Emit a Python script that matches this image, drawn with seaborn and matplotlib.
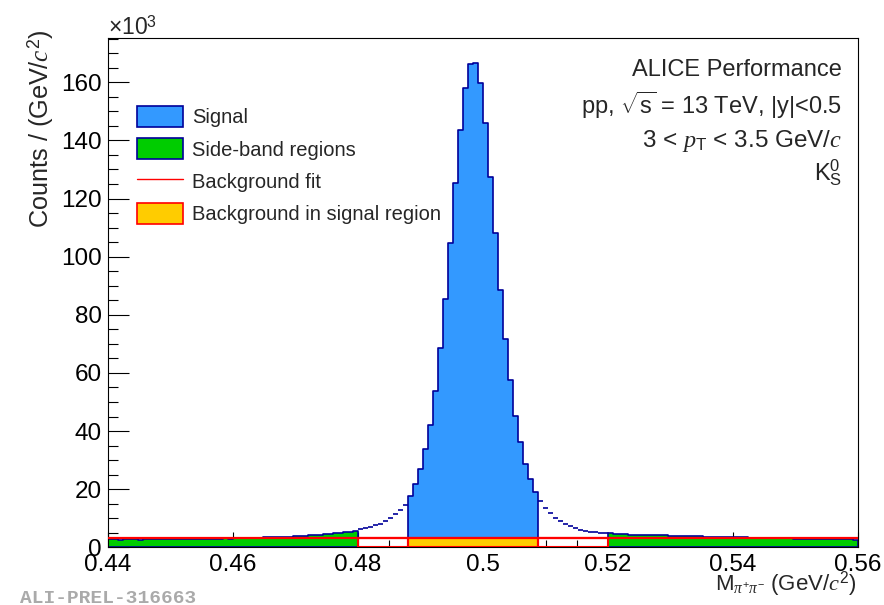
import numpy as np
import pandas as pd
import matplotlib
matplotlib.use("Agg")
import matplotlib.pyplot as plt
import seaborn as sns
from matplotlib.patches import Patch
from matplotlib.lines import Line2D
from matplotlib.ticker import MultipleLocator, FixedLocator

# ---- invariant-mass histogram (counts in units of 10^3 per bin) ----
x_min, x_max, n_bins = 0.44, 0.56, 150

left_sideband = [2.7, 2.8, 2.6, 2.7, 2.8, 2.7, 2.6, 2.8, 2.7, 2.8,
                 2.8, 2.7, 2.9, 2.8, 2.8, 2.9, 2.8, 2.9, 3.0, 2.9,
                 3.0, 2.9, 3.0, 3.1, 3.0, 3.1, 3.1, 3.2, 3.2, 3.3,
                 3.3, 3.4, 3.4, 3.5, 3.6, 3.7, 3.7, 3.8, 3.9, 4.0,
                 4.1, 4.2, 4.3, 4.5, 4.6, 4.8, 4.9, 5.2, 5.4, 5.6]
left_gap = [6.3, 6.6, 7.0, 7.6, 8.1, 8.9, 10.0, 11.4, 12.9, 14.6]
signal = [17.7, 21.7, 26.8, 33.7, 42.2, 53.7, 68.6, 85.5, 104.8, 125.2,
          143.6, 158.2, 166.3, 166.8, 159.9, 146.1, 127.5, 108.2, 88.7, 71.6,
          57.5, 45.1, 36.1, 28.8, 23.4, 19.2]
right_gap = [16.0, 13.4, 11.7, 10.2, 9.2, 8.1, 7.3, 6.5, 6.0, 5.7, 5.4, 5.2, 5.0, 4.8]
right_sideband = [4.8, 4.6, 4.6, 4.5, 4.4, 4.4, 4.3, 4.3, 4.2, 4.2,
                  4.1, 4.1, 4.0, 4.0, 3.9, 3.9, 3.9, 3.8, 3.8, 3.7,
                  3.7, 3.6, 3.6, 3.5, 3.5, 3.5, 3.4, 3.4, 3.3, 3.3,
                  3.3, 3.2, 3.2, 3.2, 3.1, 3.1, 3.1, 3.0, 3.0, 3.0,
                  2.9, 2.9, 2.9, 2.8, 2.8, 2.8, 2.7, 2.7, 2.7, 2.6]
background_level = 3.3

x_ticks = [0.44, 0.46, 0.48, 0.50, 0.52, 0.54, 0.56]
x_tick_labels = ["0.44", "0.46", "0.48", "0.5", "0.52", "0.54", "0.56"]
y_ticks = [0, 20, 40, 60, 80, 100, 120, 140, 160]
legend_labels = ["Signal", "Side-band regions", "Background fit",
                 "Background in signal region"]

# ---- colours ----
c_signal = "#3399ff"
c_side = "#00cc00"
c_bkg = "#ffcc00"
c_line = "#000099"
c_fit = "#ff0000"

sns.set_style("ticks")
plt.rcParams["font.family"] = ["Liberation Sans", "DejaVu Sans"]
plt.rcParams["mathtext.fontset"] = "custom"
plt.rcParams["mathtext.rm"] = "Liberation Sans"
plt.rcParams["mathtext.it"] = "Liberation Serif:italic"
plt.rcParams["mathtext.bf"] = "Liberation Sans:bold"
plt.rcParams["axes.edgecolor"] = "black"

fig = plt.figure(figsize=(8.84, 6.05), dpi=100)
ax = fig.add_axes([108 / 884, 1 - 547.3 / 605, 750 / 884, 509 / 605])

edges = np.linspace(x_min, x_max, n_bins + 1)
counts = np.array(left_sideband + left_gap + signal + right_gap + right_sideband)
centers = 0.5 * (edges[:-1] + edges[1:])
hist_df = pd.DataFrame({"mass": centers, "counts": counts})

# bin index ranges of each region
n1 = len(left_sideband)
n2 = n1 + len(left_gap)
n3 = n2 + len(signal)
n4 = n3 + len(right_gap)
n5 = n4 + len(right_sideband)


def filled_hist(i0, i1, color):
    sns.histplot(data=hist_df.iloc[i0:i1], x="mass", weights="counts",
                 bins=i1 - i0, binrange=(edges[i0], edges[i1]),
                 element="step", fill=True, color=color, edgecolor=c_line,
                 linewidth=1.2, alpha=1, ax=ax, zorder=1)


filled_hist(0, n1, c_side)
filled_hist(n2, n3, c_signal)
filled_hist(n4, n5, c_side)

# unfilled bins between side bands and signal window
for i0, i1 in [(n1, n2), (n3, n4)]:
    ax.hlines(counts[i0:i1], edges[i0:i1], edges[i0 + 1:i1 + 1],
              colors=c_line, linewidth=1.2, zorder=2)

# background under the peak and the excluded windows
ax.bar(edges[n2], background_level, width=edges[n3] - edges[n2], align="edge",
       color=c_bkg, edgecolor=c_fit, linewidth=1.5, zorder=3)
for i0, i1 in [(n1, n2), (n3, n4)]:
    ax.bar(edges[i0], background_level, width=edges[i1] - edges[i0], align="edge",
           fill=False, edgecolor=c_fit, linewidth=1.5, zorder=3)
ax.hlines(background_level, edges[0], edges[-1], colors=c_fit, linewidth=1.6, zorder=4)

# ---- axes ----
ax.set_xlim(x_min, x_max)
ax.set_ylim(0, max(signal) * 1.05)
ax.set_axisbelow(True)
ax.xaxis.set_major_locator(FixedLocator(x_ticks))
ax.set_xticklabels(x_tick_labels)
ax.xaxis.set_minor_locator(MultipleLocator(0.005))
ax.yaxis.set_major_locator(FixedLocator(y_ticks))
ax.yaxis.set_minor_locator(MultipleLocator(5))
ax.tick_params(axis="both", which="both", direction="in", top=False, right=False,
               color="black", width=0.8, labelcolor="black")
ax.tick_params(axis="y", which="major", length=15, pad=4.5, labelsize=17.5)
ax.tick_params(axis="y", which="minor", length=7.3)
ax.tick_params(axis="x", which="major", length=11, pad=4.5, labelsize=17.5)
ax.tick_params(axis="x", which="minor", length=5.4)
for s in ax.spines.values():
    s.set_visible(True)
    s.set_linewidth(0.8)
    s.set_color("black")

ax.set_ylabel(r"Counts / (GeV/$\mathit{c}^{2}$)", fontsize=18.2, loc="top")
ax.yaxis.label.set_verticalalignment("baseline")
ax.yaxis.set_label_coords(-0.0793, 1.0163)
ax.set_xlabel(r"M$_{\pi^{+}\pi^{-}}$ (GeV/$\mathit{c}^{2}$)", fontsize=16, loc="right")
ax.xaxis.label.set_verticalalignment("baseline")
ax.xaxis.set_label_coords(0.998, -0.084)

fig.text(108 / 884, 1 - 35 / 605, r"$\times$10$^{3}$", fontsize=16.5, ha="left",
         va="baseline")

# ---- legend ----
handles = [Patch(facecolor=c_signal, edgecolor=c_line, linewidth=1.2),
           Patch(facecolor=c_side, edgecolor=c_line, linewidth=1.2),
           Line2D([], [], color=c_fit, linewidth=1.0),
           Patch(facecolor=c_bkg, edgecolor=c_fit, linewidth=1.2)]
fig.legend(handles, legend_labels, loc="upper left",
           bbox_to_anchor=(137 / 884, 1 - 106 / 605), frameon=False,
           fontsize=14.5, handlelength=2.29, handleheight=1.2,
           handletextpad=0.45, labelspacing=0.56, borderpad=0, borderaxespad=0)

# ---- annotations ----
tx = 842 / 884
fig.text(tx, 1 - 76 / 605, "ALICE Performance", fontsize=17, ha="right", va="baseline")
fig.text(tx, 1 - 114 / 605, r"pp, $\sqrt{\mathrm{s}}$ = 13 TeV, |y|<0.5", fontsize=17,
         ha="right", va="baseline")
fig.text(tx, 1 - 147 / 605, r"3 < $\mathit{p}_{\mathrm{T}}$ < 3.5 GeV/$\mathit{c}$",
         fontsize=17.5, ha="right", va="baseline")
fig.text(tx, 1 - 180 / 605, r"K$^{0}_{\mathrm{S}}$", fontsize=17, ha="right",
         va="baseline")

fig.text(20 / 884, 1 - 603 / 605, "ALI-PREL-316663", fontsize=14,
         family=["Liberation Mono", "DejaVu Sans Mono"], weight="bold",
         color="#aaaaaa", ha="left", va="baseline")

fig.savefig("out.png", dpi=100)
